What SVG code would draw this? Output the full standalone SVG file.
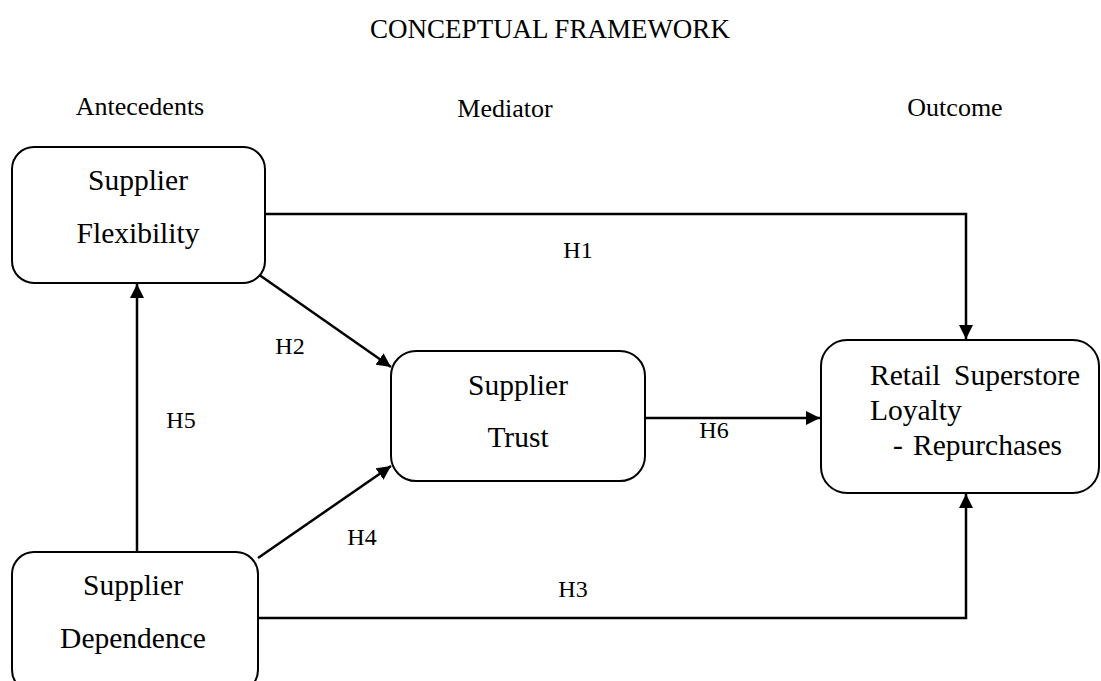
<svg xmlns="http://www.w3.org/2000/svg" width="1101" height="681" viewBox="0 0 1101 681">
<defs>
<marker id="arr" viewBox="0 0 10 10" refX="10" refY="5" markerWidth="5.6" markerHeight="5.6" orient="auto" markerUnits="strokeWidth">
<path d="M0,0 L10,5 L0,10 z" fill="#000"/>
</marker>
<style>
text{font-family:"Liberation Serif","Times New Roman",serif;fill:#000}
.title{font-size:27px}
.head{font-size:26px}
.node{font-size:29.5px}
.lab{font-size:24px}
.box{fill:#fff;stroke:#000;stroke-width:2}
.con{fill:none;stroke:#000;stroke-width:2.5;marker-end:url(#arr)}
</style>
</defs>
<rect width="1101" height="681" fill="#fff"/>
<text class="title" x="550" y="38" text-anchor="middle">CONCEPTUAL FRAMEWORK</text>
<text class="head" x="140" y="115" text-anchor="middle">Antecedents</text>
<text class="head" x="505" y="117" text-anchor="middle">Mediator</text>
<text class="head" x="955" y="116" text-anchor="middle">Outcome</text>
<g id="connectors">
<path class="con" d="M262,214 H966 V339"/>
<path class="con" d="M258,274 L391,367"/>
<path class="con" d="M137,552 V284"/>
<path class="con" d="M258,558 L391,466"/>
<path class="con" d="M258,618 H966 V494"/>
<path class="con" d="M645,418 H820"/>
<text class="lab" x="578" y="258" text-anchor="middle">H1</text>
<text class="lab" x="290" y="354" text-anchor="middle">H2</text>
<text class="lab" x="181" y="428" text-anchor="middle">H5</text>
<text class="lab" x="362" y="545" text-anchor="middle">H4</text>
<text class="lab" x="573" y="597" text-anchor="middle">H3</text>
<text class="lab" x="714" y="438" text-anchor="middle">H6</text>
</g>
<g id="flexibility">
<rect class="box" x="12" y="147" width="253" height="136" rx="22"/>
<text class="node" x="138" y="190" text-anchor="middle">Supplier</text>
<text class="node" x="138" y="243" text-anchor="middle">Flexibility</text>
</g>
<g id="trust">
<rect class="box" x="391" y="351" width="254" height="130" rx="25"/>
<text class="node" x="518" y="395" text-anchor="middle">Supplier</text>
<text class="node" x="518" y="447" text-anchor="middle">Trust</text>
</g>
<g id="retail">
<rect class="box" x="821" y="340" width="278" height="153" rx="26"/>
<text class="node" x="870" y="385">Retail <tspan x="954">Superstore</tspan></text>
<text class="node" x="870" y="420">Loyalty</text>
<text class="node" x="893" y="455">-<tspan x="913">Repurchases</tspan></text>
</g>
<g id="dependence">
<rect class="box" x="12" y="552" width="246" height="140" rx="22"/>
<text class="node" x="133" y="595" text-anchor="middle">Supplier</text>
<text class="node" x="133" y="648" text-anchor="middle">Dependence</text>
</g>
</svg>
